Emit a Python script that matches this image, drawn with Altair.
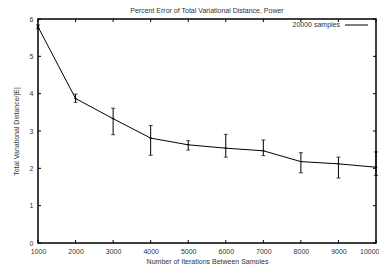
import altair as alt
import pandas as pd

# ---- data ----
iterations = [1000, 2000, 3000, 4000, 5000, 6000, 7000, 8000, 9000, 10000]
tvd_mean = [5.79, 3.87, 3.33, 2.81, 2.63, 2.54, 2.47, 2.18, 2.12, 2.03]
tvd_low = [5.74, 3.77, 2.90, 2.35, 2.49, 2.30, 2.34, 1.88, 1.74, 1.81]
tvd_high = [5.84, 3.99, 3.61, 3.15, 2.74, 2.91, 2.76, 2.42, 2.30, 2.44]
x_ticks = [1000, 2000, 3000, 4000, 5000, 6000, 7000, 8000, 9000, 10000]
y_ticks = [0, 1, 2, 3, 4, 5, 6]
series_label = "20000 samples"
title_text = "Percent Error of Total Variational Distance, Power"
x_title = "Number of Iterations Between Samples"
y_title = "Total Variational Distance/|E|"

W, H = 338, 224
FONT = "Liberation Sans"
GRAY = "#333333"
TICK = 3
last_tick = "datum.value == %d" % x_ticks[-1]

df = pd.DataFrame({"iter": iterations, "mean": tvd_mean, "lo": tvd_low, "hi": tvd_high})
xt = pd.DataFrame({"t": x_ticks})
yt = pd.DataFrame({"t": y_ticks})
leg = pd.DataFrame({"label": [series_label]})

xscale = alt.Scale(domain=[1000, 10000], nice=False, zero=False)
yscale = alt.Scale(domain=[0, 6], nice=False, zero=False)

x_axis = alt.Axis(title=x_title, values=x_ticks, format="d", tickSize=0, domain=False,
                  grid=False, labelPadding=4, titlePadding=3, labelFlush=False,
                  labelOverlap=False,
                  labelAlign={"condition": {"test": last_tick, "value": "right"}, "value": "center"},
                  labelOffset={"condition": {"test": last_tick, "value": 3}, "value": 0})
y_axis = alt.Axis(title=y_title, values=y_ticks, format="d", tickSize=0, domain=False,
                  grid=False, labelPadding=5, titlePadding=10, labelFlush=False,
                  labelOverlap=False)

line = alt.Chart(df).mark_line(color="black", strokeWidth=1).encode(
    x=alt.X("iter:Q", scale=xscale, axis=x_axis),
    y=alt.Y("mean:Q", scale=yscale, axis=y_axis),
)
err = alt.Chart(df).mark_rule(color="black", strokeWidth=1).encode(
    x=alt.X("iter:Q", scale=xscale, axis=x_axis), y=alt.Y("lo:Q", scale=yscale, axis=y_axis), y2="hi:Q"
)
cap_lo = alt.Chart(df).mark_tick(color="black", thickness=1, size=4, orient="horizontal").encode(
    x=alt.X("iter:Q", scale=xscale, axis=x_axis), y=alt.Y("lo:Q", scale=yscale, axis=y_axis)
)
cap_hi = alt.Chart(df).mark_tick(color="black", thickness=1, size=4, orient="horizontal").encode(
    x=alt.X("iter:Q", scale=xscale, axis=x_axis), y=alt.Y("hi:Q", scale=yscale, axis=y_axis)
)
cap_mid = alt.Chart(df).mark_tick(color="black", thickness=1, size=3, orient="horizontal").encode(
    x=alt.X("iter:Q", scale=xscale, axis=x_axis), y=alt.Y("mean:Q", scale=yscale, axis=y_axis)
)

xt_bot = alt.Chart(xt).mark_rule(color="black", strokeWidth=1).encode(
    x=alt.X("t:Q", scale=xscale, axis=x_axis), y=alt.value(H), y2=alt.value(H - TICK))
xt_top = alt.Chart(xt).mark_rule(color="black", strokeWidth=1).encode(
    x=alt.X("t:Q", scale=xscale, axis=x_axis), y=alt.value(0), y2=alt.value(TICK))
yt_left = alt.Chart(yt).mark_rule(color="black", strokeWidth=1).encode(
    y=alt.Y("t:Q", scale=yscale, axis=y_axis), x=alt.value(0), x2=alt.value(TICK))
yt_right = alt.Chart(yt).mark_rule(color="black", strokeWidth=1).encode(
    y=alt.Y("t:Q", scale=yscale, axis=y_axis), x=alt.value(W), x2=alt.value(W - TICK))

leg_text = alt.Chart(leg).mark_text(align="right", baseline="middle", fontSize=7,
                                    font=FONT, color=GRAY).encode(
    text="label:N", x=alt.value(302), y=alt.value(6))
leg_line = alt.Chart(leg).mark_rule(color="black", strokeWidth=1).encode(
    x=alt.value(307), x2=alt.value(330), y=alt.value(6))

chart = alt.layer(
    line, err, cap_lo, cap_hi, cap_mid, xt_bot, xt_top, yt_left, yt_right, leg_text, leg_line
).properties(
    width=W, height=H,
    title=alt.TitleParams(title_text, fontSize=7, font=FONT, color=GRAY,
                          fontWeight="normal", anchor="middle", offset=1),
    autosize=alt.AutoSizeParams(type="none"),
    padding={"left": 30, "top": 11, "right": 3, "bottom": 21},
    background="white",
).configure_axis(
    labelFontSize=7, labelFont=FONT, labelColor=GRAY, labelOverlap=False,
    titleFontSize=7, titleFont=FONT, titleColor=GRAY, titleFontWeight="normal",
).configure_view(stroke="black", strokeWidth=1.5)

chart.save("out.html", embed_options={"renderer": "svg", "actions": False})
